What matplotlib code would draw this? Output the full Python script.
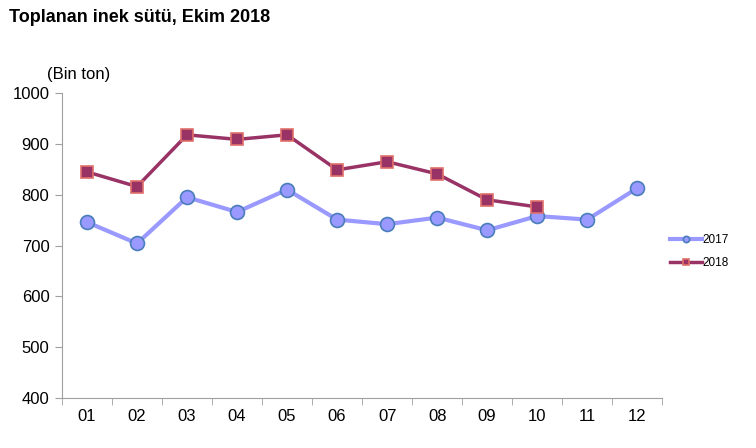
import matplotlib.pyplot as plt

plt.rcParams['font.family'] = ['Liberation Sans', 'DejaVu Sans']

# Aylar ve değerler (bin ton)
months = ['01', '02', '03', '04', '05', '06', '07', '08', '09', '10', '11', '12']
milk_2017 = [746, 704, 795, 766, 810, 751, 742, 755, 730, 758, 751, 813]
milk_2018 = [845, 816, 918, 909, 918, 849, 865, 841, 790, 776]

fig = plt.figure(figsize=(7.56, 4.48), dpi=100)
ax = fig.add_axes([0.082, 0.112, 0.794, 0.68])

x17 = range(len(milk_2017))
x18 = range(len(milk_2018))

ax.plot(x17, milk_2017, color='#9999ff', linewidth=3, marker='o', markersize=10,
        markerfacecolor='#9999ff', markeredgecolor='#4a7ebb', markeredgewidth=1.2,
        label='2017', zorder=3)
ax.plot(x18, milk_2018, color='#993366', linewidth=2.5, marker='s', markersize=9,
        markerfacecolor='#993366', markeredgecolor='#e0706a', markeredgewidth=1.2,
        label='2018', zorder=4)

ax.set_xlim(-0.5, len(months) - 0.5)
ax.set_ylim(400, 1000)
ax.set_yticks(range(400, 1001, 100))
ax.set_xticks(range(len(months)))
ax.set_xticklabels(months)
ax.set_xticks([i - 0.5 for i in range(len(months) + 1)], minor=True)

for s in ['top', 'right']:
    ax.spines[s].set_visible(False)
for s in ['left', 'bottom']:
    ax.spines[s].set_color('#a0a0a0')

ax.tick_params(axis='x', which='major', length=0, pad=8, labelsize=12)
ax.tick_params(axis='x', which='minor', length=5, color='#a0a0a0')
ax.tick_params(axis='y', length=5, color='#a0a0a0', labelsize=12, pad=4)

fig.text(47 / 756, 1 - 75 / 448, '(Bin ton)', fontsize=12, ha='left', va='center')

fig.text(0.012, 0.96, 'Toplanan inek sütü, Ekim 2018', fontsize=13,
         fontweight='bold', ha='left', va='center')

leg = ax.legend(loc='center left', bbox_to_anchor=(0.995, 0.48), frameon=False,
                fontsize=8.5, handlelength=2.7, markerscale=0.45,
                labelspacing=0.9, handletextpad=0.1)

plt.savefig('out.png', dpi=100)
plt.close()
